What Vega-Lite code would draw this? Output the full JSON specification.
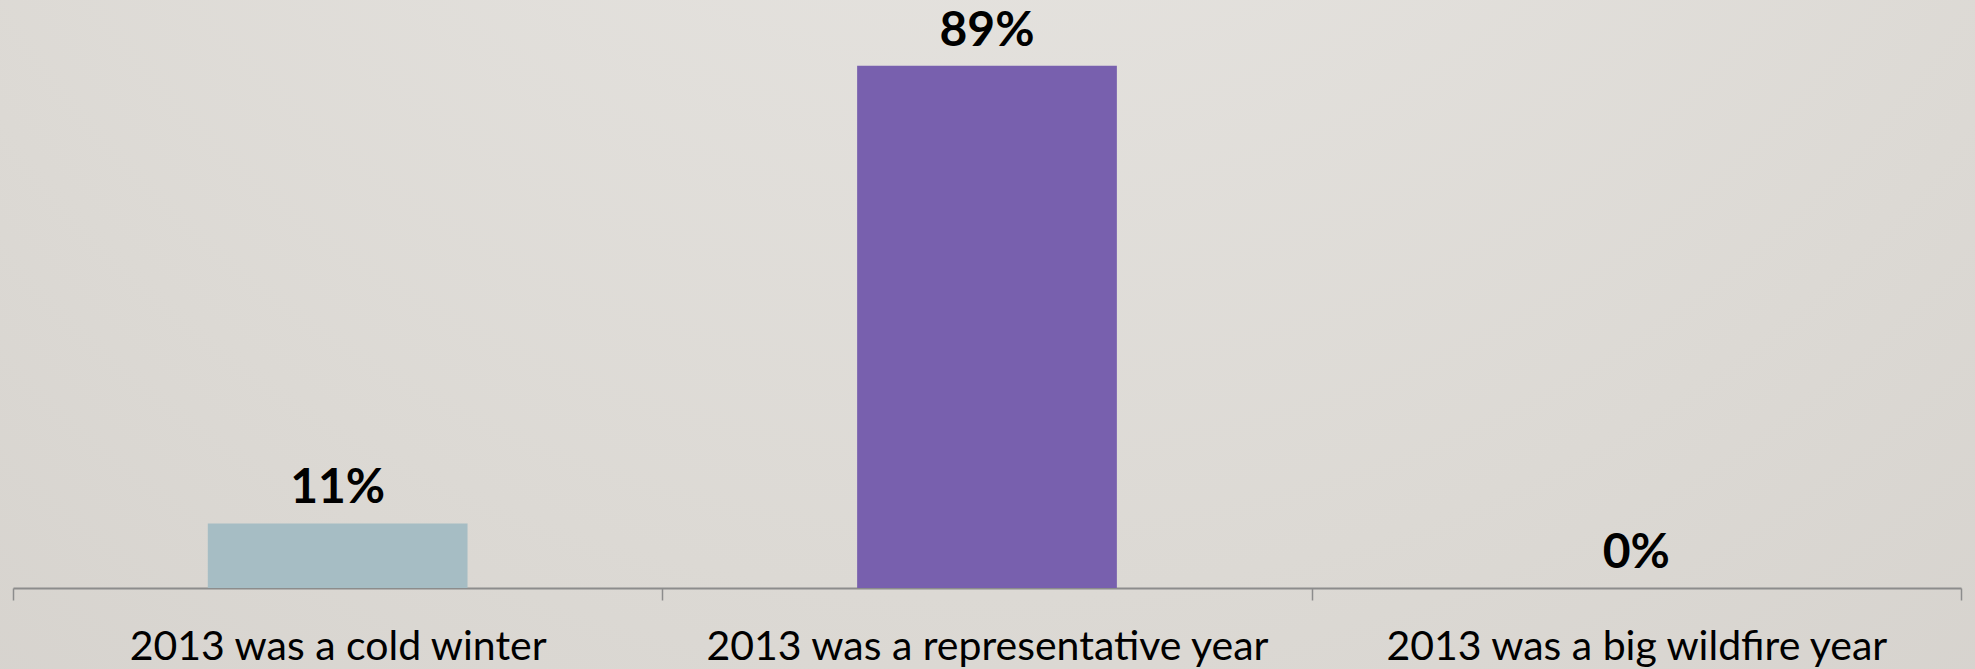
{
  "$schema": "https://vega.github.io/schema/vega-lite/v6.json",
  "autosize": {"type": "none"},
  "width": 1975,
  "height": 669,
  "padding": 0,
  "background": "#d3cfca",
  "config": {
    "view": {
      "stroke": null,
      "fill": {
        "gradient": "radial",
        "x1": 0.5, "y1": 0.0, "r1": 0,
        "x2": 0.5, "y2": 0.0, "r2": 1.15,
        "stops": [
          {"offset": 0, "color": "#ebe9e6"},
          {"offset": 0.55, "color": "#dcd9d4"},
          {"offset": 1, "color": "#cfcbc6"}
        ]
      }
    },
    "font": "Lato"
  },
  "data": {
    "values": [
      {"answer": "2013 was a cold winter", "share": 11, "label": "11%"},
      {"answer": "2013 was a representative year", "share": 89, "label": "89%"},
      {"answer": "2013 was a big wildfire year", "share": 0, "label": "0%"}
    ]
  },
  "encoding": {
    "x": {
      "field": "answer",
      "type": "nominal",
      "sort": null,
      "scale": {"paddingInner": 0, "paddingOuter": 0, "range": [13, 1961]},
      "axis": {
        "title": null,
        "offset": -81,
        "labelAngle": 0,
        "labelFont": "Lato",
        "labelFontSize": 41,
        "labelColor": "#000000",
        "labelPadding": 27,
        "labelLimit": 0,
        "domainColor": "#8c8c8c",
        "domainWidth": 2,
        "tickBand": "extent",
        "tickColor": "#8c8c8c",
        "tickWidth": 1.5,
        "tickSize": 12
      }
    },
    "y": {
      "field": "share",
      "type": "quantitative",
      "scale": {"domain": [-13.8, 100.2], "nice": false, "zero": false},
      "axis": null
    }
  },
  "layer": [
    {
      "mark": {"type": "bar", "width": {"band": 0.4}},
      "encoding": {
        "color": {
          "field": "answer",
          "type": "nominal",
          "legend": null,
          "scale": {
            "domain": ["2013 was a cold winter", "2013 was a representative year", "2013 was a big wildfire year"],
            "range": ["#a6bdc4", "#7860ae", "#9aa8c8"]
          }
        }
      }
    },
    {
      "mark": {
        "type": "text",
        "baseline": "alphabetic",
        "dy": -20,
        "font": "Lato",
        "fontWeight": "bold",
        "fontSize": 48,
        "color": "#000000"
      },
      "encoding": {
        "text": {"field": "label"}
      }
    }
  ]
}
